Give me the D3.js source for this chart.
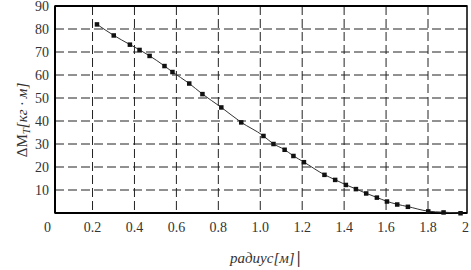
<!DOCTYPE html>
<html>
<head>
<meta charset="utf-8">
<script src="https://cdn.jsdelivr.net/npm/d3@7"></script>
<style>
  body { margin: 0; background: #fff; }
  svg text { font-family: "Liberation Serif", "DejaVu Serif", serif; }
</style>
</head>
<body>
<div id="chart"></div>
<script>
// radius [m] and torque difference values
const radius = [0.22, 0.30, 0.377, 0.423, 0.471, 0.542, 0.58, 0.66, 0.723, 0.813, 0.908,
                1.014, 1.062, 1.115, 1.157, 1.207, 1.305, 1.356, 1.407, 1.455, 1.504,
                1.555, 1.603, 1.652, 1.703, 1.80, 1.873, 1.954];
const deltaM = [82.1, 77.3, 73.3, 71.0, 68.4, 64.0, 61.4, 56.4, 51.8, 46.0, 39.5,
                33.6, 30.1, 27.6, 24.9, 22.2, 16.7, 14.5, 12.3, 10.5, 8.6,
                6.8, 5.1, 3.8, 2.8, 0.8, 0.35, 0.0];
const xTicks = [0, 0.2, 0.4, 0.6, 0.8, 1.0, 1.2, 1.4, 1.6, 1.8, 2];
const yTicks = [10, 20, 30, 40, 50, 60, 70, 80, 90];

const W = 471, H = 270;
const margin = { top: 6, right: 4, bottom: 57, left: 55 };
const width = W - margin.left - margin.right,
      height = H - margin.top - margin.bottom;

const svg = d3.select("#chart").append("svg")
    .attr("width", W).attr("height", H);
const g = svg.append("g")
    .attr("transform", `translate(${margin.left},${margin.top})`);

// x axis doesn't start exactly at 0 in the original
const x = d3.scaleLinear().domain([0.021, 1.986]).range([0, width]);
const y = d3.scaleLinear().domain([0, 90]).range([height, 0]);

// grid
g.append("g").selectAll("line")
  .data(xTicks.filter(d => d > 0 && d < 2))
  .join("line")
    .attr("x1", d => x(d)).attr("x2", d => x(d))
    .attr("y1", 0).attr("y2", height)
    .attr("stroke", "#222").attr("stroke-width", 1)
    .attr("stroke-dasharray", "9,4");

g.append("g").selectAll("line")
  .data(yTicks.filter(d => d < 90))
  .join("line")
    .attr("x1", 0).attr("x2", width)
    .attr("y1", d => y(d)).attr("y2", d => y(d))
    .attr("stroke", "#222").attr("stroke-width", 1)
    .attr("stroke-dasharray", "9,4");

// frame
g.append("rect")
  .attr("x", 0).attr("y", 0).attr("width", width).attr("height", height)
  .attr("fill", "none").attr("stroke", "#000").attr("stroke-width", 1.5);
g.append("line").attr("x1", 0).attr("x2", 0).attr("y1", 0).attr("y2", height)
  .attr("stroke", "#000").attr("stroke-width", 2);
g.append("line").attr("x1", 0).attr("x2", width).attr("y1", height).attr("y2", height)
  .attr("stroke", "#000").attr("stroke-width", 2);
g.append("line").attr("x1", 0).attr("x2", width).attr("y1", 0).attr("y2", 0)
  .attr("stroke", "#000").attr("stroke-width", 2);

// tick labels
g.append("g").selectAll("text")
  .data(xTicks)
  .join("text")
    .attr("x", d => d === 2 ? x(d) - 1 : x(d) - (d === 0 ? 3 : 0))
    .attr("y", height + 19)
    .attr("text-anchor", d => d === 2 ? "end" : "middle")
    .attr("fill", "#333")
    .style("font-size", "14px")
    .text(d => d === 0 || d === 2 ? d : d.toFixed(1));

g.append("g").selectAll("text")
  .data(yTicks)
  .join("text")
    .attr("x", -6)
    .attr("y", d => d === 90 ? y(d) + 5 : y(d) + 4.5)
    .attr("text-anchor", "end")
    .attr("fill", "#333")
    .style("font-size", "14px")
    .text(d => d);

// curve
const pts = radius.map((r, i) => ({ r, m: deltaM[i] }));
g.append("path")
  .datum(pts)
  .attr("fill", "none")
  .attr("stroke", "#333")
  .attr("stroke-width", 1)
  .attr("d", d3.line().x(d => x(d.r)).y(d => y(d.m)).curve(d3.curveMonotoneX));

g.append("g").selectAll("rect")
  .data(pts)
  .join("rect")
    .attr("x", d => x(d.r) - 2).attr("y", d => y(d.m) - 2)
    .attr("width", 4.5).attr("height", 4.5)
    .attr("fill", "#111");

// axis titles
const yt = svg.append("text")
  .attr("transform", "translate(27,120) rotate(-90)")
  .attr("text-anchor", "middle")
  .attr("fill", "#333")
  .style("font-size", "15px");
yt.append("tspan").text("ΔM");
yt.append("tspan").attr("dy", 3).style("font-size", "11px").style("font-style", "italic").text("T");
yt.append("tspan").attr("dy", -3).style("font-style", "italic").text("[кг · м]");

const xt = svg.append("text")
  .attr("x", 230).attr("y", 263)
  .attr("fill", "#333")
  .style("font-size", "15px");
xt.append("tspan").style("font-style", "italic").text("радиус[м]");
xt.append("tspan").attr("dx", 2).style("font-weight", "bold").style("font-size", "17px").text("|");
</script>
</body>
</html>
